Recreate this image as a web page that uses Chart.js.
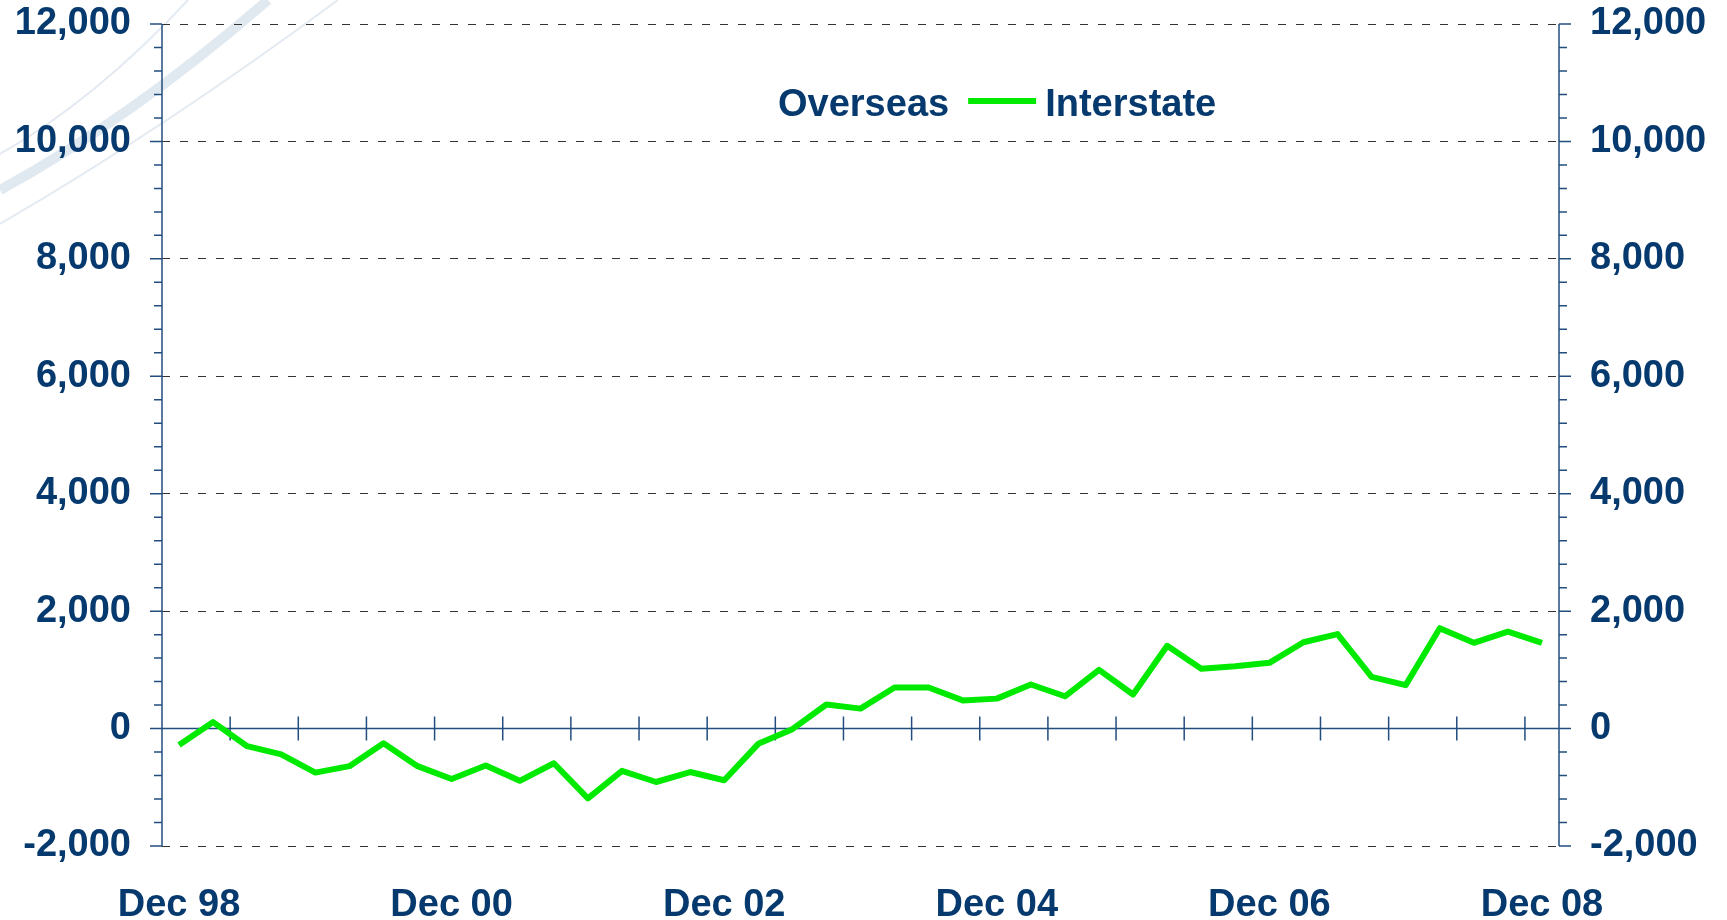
<!DOCTYPE html>
<html>
<head>
<meta charset="utf-8">
<title>Overseas / Interstate</title>
<script src="https://cdn.jsdelivr.net/npm/chart.js@4.4.1/dist/chart.umd.min.js"></script>
<style>
  html, body { margin: 0; padding: 0; background: #fff; }
  #wrap { position: relative; width: 1727px; height: 920px; }
</style>
</head>
<body>
<div id="wrap"><canvas id="chart"></canvas></div>
<script>
// quarterly, Dec 98 .. Dec 08
const categories = [
    'Dec 98', 'Mar 99', 'Jun 99', 'Sep 99', 'Dec 99', 'Mar 00', 'Jun 00', 'Sep 00',
    'Dec 00', 'Mar 01', 'Jun 01', 'Sep 01', 'Dec 01', 'Mar 02', 'Jun 02', 'Sep 02',
    'Dec 02', 'Mar 03', 'Jun 03', 'Sep 03', 'Dec 03', 'Mar 04', 'Jun 04', 'Sep 04',
    'Dec 04', 'Mar 05', 'Jun 05', 'Sep 05', 'Dec 05', 'Mar 06', 'Jun 06', 'Sep 06',
    'Dec 06', 'Mar 07', 'Jun 07', 'Sep 07', 'Dec 07', 'Mar 08', 'Jun 08', 'Sep 08',
    'Dec 08'
];
const interstateValues = [
    -280, 110, -300, -440, -750, -640, -250, -640,
    -860, -630, -890, -590, -1190, -720, -910, -740,
    -880, -260, -10, 410, 340, 700, 700, 480,
    510, 750, 550, 1000, 580, 1410, 1020, 1060,
    1120, 1470, 1610, 880, 740, 1710, 1460, 1650,
    1460
];
const overseasValues = []; // in the legend only, no line is drawn for it

const yMin = -2000, yMax = 12000, yStep = 2000, yMinorStep = 400;
const labelEvery = 8;

const NAVY = '#063a6e';
const AXIS = '#234d7f';
const FONT = { family: '"Liberation Sans", Arial, sans-serif', size: 38, weight: 'bold' };

// --- decoration: swooshes, axes with minor ticks, legend ---
const decor = {
    id: 'decor',
    beforeDraw(chart) {
        const ctx = chart.ctx;
        ctx.save();
        const arcs = [
            [0, 154, 95, 100, 188, 0, 2, '#e4eaf1'],
            [0, 190, 132, 118, 268, 0, 10, '#e0e8f0'],
            [0, 224, 165, 128, 338, 0, 2, '#e4eaf1']
        ];
        arcs.forEach(a => {
            ctx.beginPath();
            ctx.moveTo(a[0], a[1]);
            ctx.quadraticCurveTo(a[2], a[3], a[4], a[5]);
            ctx.lineWidth = a[6];
            ctx.strokeStyle = a[7];
            ctx.stroke();
        });
        ctx.restore();
    },
    beforeDatasetsDraw(chart) {
        const { ctx, chartArea: ca, scales: { x, y } } = chart;
        ctx.save();
        ctx.strokeStyle = AXIS;
        ctx.lineWidth = 1.5;
        ctx.beginPath();
        ctx.moveTo(ca.left, ca.top); ctx.lineTo(ca.left, ca.bottom);
        ctx.moveTo(ca.right, ca.top); ctx.lineTo(ca.right, ca.bottom);
        for (let v = yMin; v <= yMax; v += yMinorStep) {
            const py = y.getPixelForValue(v);
            const len = v % yStep === 0 ? 12 : 8;
            ctx.moveTo(ca.left - len, py); ctx.lineTo(ca.left, py);
            ctx.moveTo(ca.right, py); ctx.lineTo(ca.right + len, py);
        }
        const y0 = y.getPixelForValue(0);
        ctx.moveTo(ca.left, y0); ctx.lineTo(ca.right, y0);
        for (let k = 2; k < categories.length; k += 2) {
            const px = (x.getPixelForValue(k - 1) + x.getPixelForValue(k)) / 2;
            ctx.moveTo(px, y0 - 12); ctx.lineTo(px, y0 + 12);
        }
        ctx.stroke();
        ctx.restore();
    },
    afterDraw(chart) {
        const ctx = chart.ctx;
        ctx.save();
        ctx.font = `${FONT.weight} ${FONT.size}px ${FONT.family}`;
        ctx.textBaseline = 'alphabetic';
        ctx.textAlign = 'left';
        let cx = 701;
        chart.data.datasets.forEach(ds => {
            ctx.beginPath();
            ctx.moveTo(cx, 101); ctx.lineTo(cx + 68, 101);
            ctx.lineWidth = 6;
            ctx.strokeStyle = ds.borderColor;
            ctx.stroke();
            cx += 68 + 9;
            ctx.fillStyle = NAVY;
            ctx.fillText(ds.label, cx, 116);
            cx += ctx.measureText(ds.label).width + 19;
        });
        ctx.restore();
    }
};

new Chart(document.getElementById('chart'), {
    type: 'line',
    data: {
        labels: categories,
        datasets: [
            {
                label: 'Overseas',
                data: overseasValues,
                borderColor: 'rgba(255,255,255,0)',
                pointRadius: 0
            },
            {
                label: 'Interstate',
                data: interstateValues,
                borderColor: '#00ea00',
                borderWidth: 6,
                borderJoinStyle: 'round',
                pointRadius: 0,
                tension: 0
            }
        ]
    },
    options: {
        responsive: true,
        maintainAspectRatio: false,
        animation: false,
        layout: { padding: { top: 24, left: 0, right: 0, bottom: 0 } },
        plugins: { legend: { display: false }, tooltip: { enabled: false } },
        scales: {
            x: {
                type: 'category',
                offset: true,
                grid: { display: false, drawTicks: false },
                border: { display: false },
                ticks: {
                    autoSkip: false, maxRotation: 0, color: NAVY, font: FONT, padding: 37,
                    callback: (v, i) => i % labelEvery === 0 ? categories[i] : ''
                },
                afterFit(s) { s.height = 74; s.paddingLeft = 0; s.paddingRight = 0; }
            },
            y: {
                position: 'left', min: yMin, max: yMax,
                ticks: { stepSize: yStep, color: NAVY, font: FONT, padding: 31,
                         callback: v => Number(v).toLocaleString('en-US') },
                grid: { drawTicks: false, lineWidth: 1,
                        color: c => (c.tick && c.tick.value === 0) ? 'rgba(0,0,0,0)' : '#333' },
                border: { display: false, dash: [8, 10] },
                afterFit(s) { s.width = 162; s.paddingTop = 0; s.paddingBottom = 0; }
            },
            y2: {
                position: 'right', min: yMin, max: yMax,
                ticks: { stepSize: yStep, color: NAVY, font: FONT, padding: 31,
                         callback: v => Number(v).toLocaleString('en-US') },
                grid: { display: false, drawTicks: false },
                border: { display: false },
                afterFit(s) { s.width = 168; s.paddingTop = 0; s.paddingBottom = 0; }
            }
        }
    },
    plugins: [decor]
});
</script>
</body>
</html>
